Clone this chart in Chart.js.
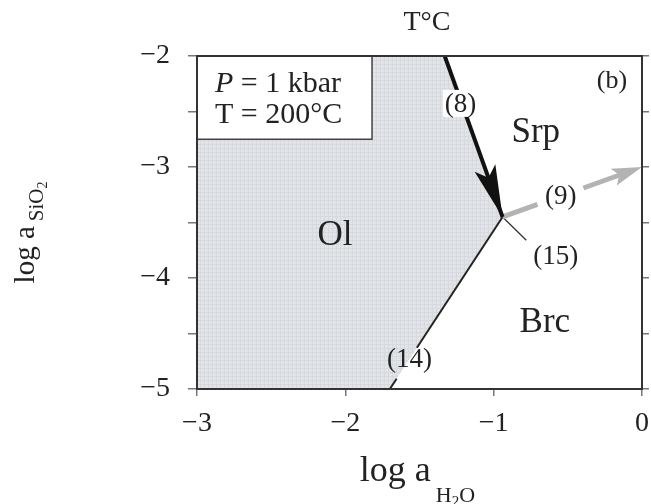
<!DOCTYPE html>
<html>
<head>
<meta charset="utf-8">
<script src="https://cdn.jsdelivr.net/npm/chart.js@4.4.0/dist/chart.umd.min.js"></script>
<style>
  html, body { margin: 0; padding: 0; background: #fff; }
</style>
</head>
<body>
<canvas id="phaseChart" width="651" height="504"></canvas>
<script>
// === DATA ===
const xTicks = [-3, -2, -1, 0];
const yTicks = [-5, -4.5, -4, -3.5, -3, -2.5, -2];
const triplePoint = [-0.94, -3.45];
const line8 = [[-1.33, -2], triplePoint];       // Ol / Srp, black arrow
const line9 = [triplePoint, [0, -3]];           // Srp / Brc, gray arrow
const line14 = [triplePoint, [-1.70, -5]];      // Ol / Brc
const line15 = [triplePoint, [-0.78, -3.66]];   // leader to (15)
const olField = [[-3, -5], [-3, -2.75], [-1.82, -2.75], [-1.82, -2], [-1.33, -2], triplePoint, [-1.70, -5]];
const infoBox = [[-3, -2], [-1.82, -2.75]];

// gaps left in the lines for their labels (fraction along the line)
const gap9 = [0.25, 0.58];
const gap14 = [0.76, 0.94];

const SERIF = '"Liberation Serif", "DejaVu Serif", serif';

const fmt = v => (v < 0 ? '\u2212' + Math.abs(v) : String(v));
const along = (ln, t) => ({
  x: ln[0][0] + (ln[1][0] - ln[0][0]) * t,
  y: ln[0][1] + (ln[1][1] - ln[0][1]) * t
});

function segment(ln, t0, t1, color, width) {
  return {
    type: 'line',
    data: [along(ln, t0), along(ln, t1)],
    borderColor: color,
    borderWidth: width,
    pointRadius: 0,
    borderCapStyle: 'butt',
    fill: false
  };
}

function makePattern(ctx) {
  const c = document.createElement('canvas');
  c.width = 4; c.height = 4;
  const g = c.getContext('2d');
  g.fillStyle = '#e2e4e8';
  g.fillRect(0, 0, 4, 4);
  g.fillStyle = '#d6d9de';
  g.fillRect(0, 0, 4, 1);
  g.fillRect(0, 0, 1, 4);
  return ctx.createPattern(c, 'repeat');
}

function arrowHead(chart, ln, len, halfW, color) {
  const x = chart.scales.x, y = chart.scales.y;
  const x0 = x.getPixelForValue(ln[0][0]), y0 = y.getPixelForValue(ln[0][1]);
  const x1 = x.getPixelForValue(ln[1][0]), y1 = y.getPixelForValue(ln[1][1]);
  const a = Math.atan2(y1 - y0, x1 - x0);
  const c = chart.ctx;
  const dx = Math.cos(a), dy = Math.sin(a);
  c.save();
  c.fillStyle = color;
  c.beginPath();
  c.moveTo(x1, y1);
  c.lineTo(x1 - dx * len - dy * halfW, y1 - dy * len + dx * halfW);
  c.lineTo(x1 - dx * len * 0.8, y1 - dy * len * 0.8);
  c.lineTo(x1 - dx * len + dy * halfW, y1 - dy * len - dx * halfW);
  c.closePath();
  c.fill();
  c.restore();
}

// rich text: parts drawn left to right, each with its own size, gap and baseline shift
function richWidth(c, parts) {
  let w = 0;
  parts.forEach(p => { c.font = p.size + 'px ' + SERIF; w += (p.gap || 0) + c.measureText(p.t).width; });
  return w;
}
function drawRich(c, parts, x, y) {
  let cx = x;
  parts.forEach(p => {
    c.font = p.size + 'px ' + SERIF;
    cx += p.gap || 0;
    c.fillText(p.t, cx, y + (p.dy || 0));
    cx += c.measureText(p.t).width;
  });
}

// field names and reaction labels, positions in data units (baseline)
const labels = [
  { t: 'Ol', x: -2.07, y: -3.70, size: 35 },
  { t: 'Srp', x: -0.716, y: -2.775, size: 35 },
  { t: 'Brc', x: -0.655, y: -4.49, size: 35 },
  { t: '(b)', x: -0.203, y: -2.29, size: 26 },
  { t: '(8)', x: -1.223, y: -2.50, size: 27, bg: true },
  { t: '(9)', x: -0.547, y: -3.33, size: 27 },
  { t: '(15)', x: -0.581, y: -3.87, size: 27 },
  { t: '(14)', x: -1.568, y: -4.80, size: 27 }
];

const phasePlugin = {
  id: 'phase',
  beforeDatasetsDraw(chart) {
    const c = chart.ctx, x = chart.scales.x, y = chart.scales.y;
    c.save();
    c.fillStyle = makePattern(c);
    c.beginPath();
    olField.forEach((p, i) => {
      const px = x.getPixelForValue(p[0]), py = y.getPixelForValue(p[1]);
      if (i === 0) c.moveTo(px, py); else c.lineTo(px, py);
    });
    c.closePath();
    c.fill();
    c.restore();
  },
  afterDatasetsDraw(chart) {
    const c = chart.ctx, x = chart.scales.x, y = chart.scales.y;
    arrowHead(chart, line8, 52, 11, '#111');
    arrowHead(chart, line9, 30, 9, '#b3b3b3');

    // info box
    const bx0 = x.getPixelForValue(infoBox[0][0]), by0 = y.getPixelForValue(infoBox[0][1]);
    const bx1 = x.getPixelForValue(infoBox[1][0]), by1 = y.getPixelForValue(infoBox[1][1]);
    c.save();
    c.fillStyle = '#fff';
    c.fillRect(bx0, by0, bx1 - bx0, by1 - by0);
    c.strokeStyle = '#444';
    c.lineWidth = 1.5;
    c.strokeRect(bx0, by0, bx1 - bx0, by1 - by0);
    c.fillStyle = '#222';
    c.textBaseline = 'alphabetic';
    c.textAlign = 'left';
    c.font = 'italic 30px ' + SERIF;
    c.fillText('P', bx0 + 18, by0 + 36);
    const pw = c.measureText('P').width;
    c.font = '30px ' + SERIF;
    c.fillText(' = 1 kbar', bx0 + 18 + pw, by0 + 36);
    c.fillText('T = 200\u00B0C', bx0 + 18, by0 + 67);
    c.restore();

    // labels
    c.save();
    c.textAlign = 'center';
    c.textBaseline = 'alphabetic';
    labels.forEach(l => {
      const px = x.getPixelForValue(l.x), py = y.getPixelForValue(l.y);
      c.font = l.size + 'px ' + SERIF;
      if (l.bg) {
        const w = c.measureText(l.t).width;
        c.fillStyle = '#fff';
        c.fillRect(px - w / 2 - 2, py - l.size * 0.8, w + 4, l.size * 1.0);
      }
      c.fillStyle = '#222';
      c.fillText(l.t, px, py);
    });
    c.restore();

    // frame
    const a = chart.chartArea;
    c.save();
    c.strokeStyle = '#333';
    c.lineWidth = 2;
    c.strokeRect(a.left, a.top, a.right - a.left, a.bottom - a.top);
    c.restore();
  },
  afterDraw(chart) {
    const c = chart.ctx, a = chart.chartArea;
    c.save();
    c.fillStyle = '#222';
    c.textBaseline = 'alphabetic';
    c.textAlign = 'left';

    // x title
    const xt = [
      { t: 'log a', size: 36 },
      { t: 'H', size: 22, dy: 21, gap: 5 },
      { t: '2', size: 15, dy: 25 },
      { t: 'O', size: 22, dy: 21 }
    ];
    const xw = richWidth(c, xt);
    drawRich(c, xt, (a.left + a.right) / 2 - xw / 2 - 2, a.bottom + 92);

    // y title (rotated)
    const yt = [
      { t: 'log a', size: 29 },
      { t: 'SiO', size: 21, dy: 9, gap: 5 },
      { t: '2', size: 14, dy: 13 }
    ];
    const yw = richWidth(c, yt);
    c.translate(34, (a.top + a.bottom) / 2 + 10);
    c.rotate(-Math.PI / 2);
    drawRich(c, yt, -yw / 2, 0);
    c.restore();

    // T°C header
    c.save();
    c.fillStyle = '#222';
    c.textAlign = 'center';
    c.textBaseline = 'alphabetic';
    c.font = '28px ' + SERIF;
    c.fillText('T\u00B0C', chart.scales.x.getPixelForValue(-1.45), 30);
    c.restore();
  }
};

// === CHART ===
document.addEventListener('DOMContentLoaded', () => {
  const el = document.getElementById('phaseChart');
  new Chart(el.getContext('2d'), {
    type: 'scatter',
    data: {
      datasets: [
        segment(line8, 0, 1, '#111', 4),
        segment(line9, 0, gap9[0], '#b3b3b3', 5),
        segment(line9, gap9[1], 0.9, '#b3b3b3', 5),
        segment(line14, 0, gap14[0], '#222', 2),
        segment(line14, gap14[1], 1, '#222', 2),
        segment(line15, 0, 1, '#333', 1.3)
      ]
    },
    options: {
      responsive: false,
      animation: false,
      layout: { autoPadding: false, padding: { top: 56, right: 0, bottom: 0, left: 0 } },
      plugins: { legend: { display: false }, tooltip: { enabled: false } },
      scales: {
        x: {
          type: 'linear',
          min: -3, max: 0,
          afterBuildTicks: s => { s.ticks = xTicks.map(v => ({ value: v })); },
          afterFit: s => { s.height = 115; s.paddingLeft = 0; s.paddingRight = 0; },
          ticks: {
            callback: v => fmt(v),
            font: { family: SERIF, size: 28 },
            color: '#222',
            padding: 11,
            maxRotation: 0
          },
          grid: { drawOnChartArea: false, drawTicks: true, tickLength: 7, color: '#777', lineWidth: 1.5 },
          border: { display: false }
        },
        y: {
          type: 'linear',
          min: -5, max: -2,
          afterBuildTicks: s => { s.ticks = yTicks.map(v => ({ value: v })); },
          afterFit: s => { s.width = 197; s.paddingTop = 0; s.paddingBottom = 0; },
          ticks: {
            callback: v => (Number.isInteger(v) ? fmt(v) : ''),
            font: { family: SERIF, size: 28 },
            color: '#222',
            padding: 18
          },
          grid: { drawOnChartArea: false, drawTicks: true, tickLength: 9, color: '#777', lineWidth: 1.5 },
          border: { display: false }
        },
        y2: {
          type: 'linear',
          position: 'right',
          min: -5, max: -2,
          afterBuildTicks: s => { s.ticks = yTicks.map(v => ({ value: v })); },
          afterFit: s => { s.width = 9; s.paddingTop = 0; s.paddingBottom = 0; },
          ticks: { display: false },
          grid: { drawOnChartArea: false, drawTicks: true, tickLength: 7, color: '#777', lineWidth: 1.5 },
          border: { display: false }
        }
      }
    },
    plugins: [phasePlugin]
  });
});
</script>
</body>
</html>
